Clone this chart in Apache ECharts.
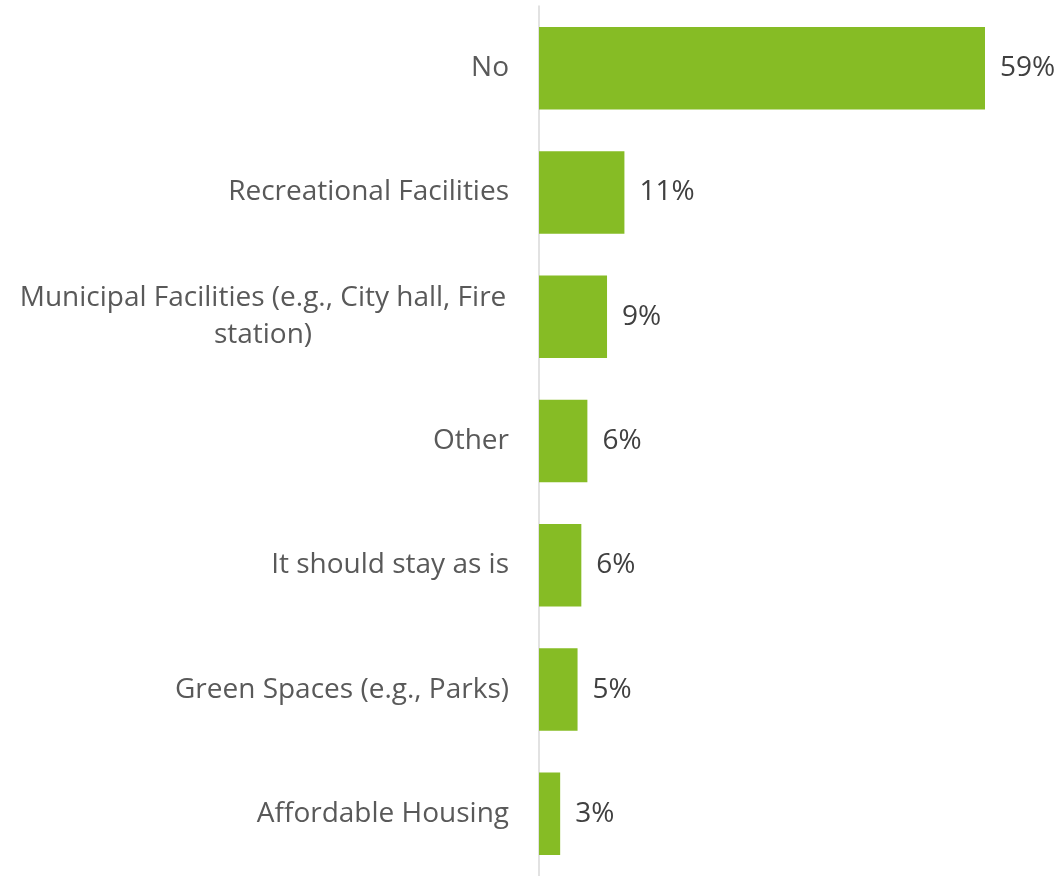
<!DOCTYPE html>
<html><head><meta charset="utf-8">
<script src="https://cdn.jsdelivr.net/npm/echarts@6/dist/echarts.min.js"></script>
<style>html,body{margin:0;padding:0;background:#fff}#c{width:1061px;height:876px}</style>
</head><body><div id="c"></div>
<script>
const categories = ["No","Recreational Facilities","Municipal Facilities (e.g., City hall, Fire\nstation)","Other","It should stay as is","Green Spaces (e.g., Parks)","Affordable Housing"];
const values = [59, 11.3, 9.0, 6.4, 5.6, 5.1, 2.8];
const valueLabels = ["59%","11%","9%","6%","6%","5%","3%"];

const FONT = '"Open Sans", sans-serif';
const chart = echarts.init(document.getElementById('c'));
chart.setOption({
  animation:false,
  grid:{left:539, top:6, width:446, height:875, containLabel:false},
  xAxis:{type:'value', min:0, max:59, show:false},
  yAxis:{type:'category', inverse:true, data:categories,
    axisLine:{show:true, lineStyle:{color:'#d9d9d9', width:1.5}},
    axisTick:{show:false},
    axisLabel:{margin:30, color:'#595959', fontSize:28, fontFamily:FONT,
      formatter:function(v){
        if (v.indexOf('\n') < 0) return '{r|' + v + '}';
        return v.split('\n').map(s=>'{c|'+s+'}').join('\n');
      },
      rich:{
        r:{fontSize:28, fontFamily:FONT, color:'#595959'},
        c:{fontSize:28, fontFamily:FONT, color:'#595959', width:492, align:'center', lineHeight:37}
      }
    }
  },
  series:[{type:'bar', data:values, barCategoryGap:'33.6%',
    itemStyle:{color:'#86bc25'},
    label:{show:true, position:'right', distance:15, color:'#404040', fontSize:28, fontFamily:FONT,
      formatter:function(p){ return valueLabels[p.dataIndex]; }}
  }]
});
</script></body></html>
